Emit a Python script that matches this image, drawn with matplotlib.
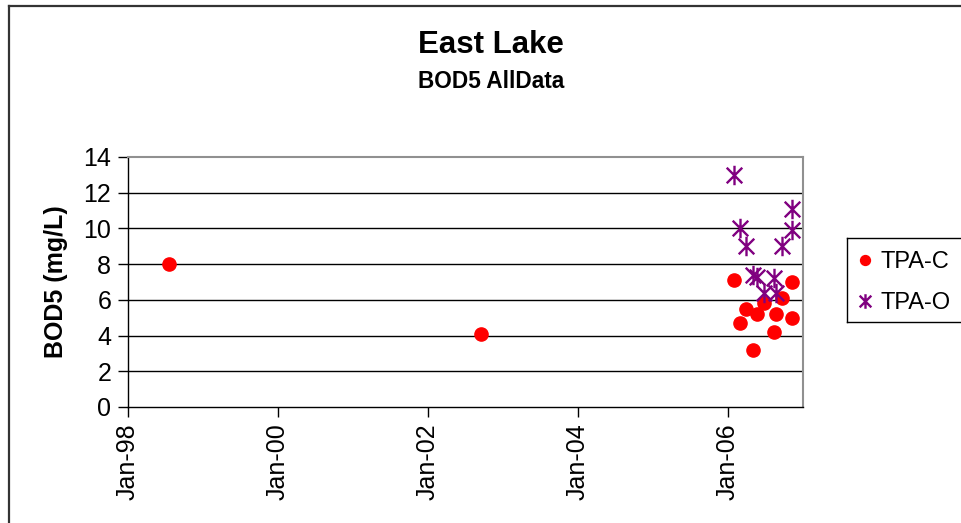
import datetime
import matplotlib
matplotlib.use('Agg')
import matplotlib.pyplot as plt
import matplotlib.dates as mdates
from matplotlib.path import Path
from matplotlib.lines import Line2D

plt.rcParams['font.family'] = ['Liberation Sans', 'DejaVu Sans']

# BOD5 samples, East Lake
tpa_c_dates = ['1998-07-20', '2002-09-15',
               '2006-01-30', '2006-03-01', '2006-03-30', '2006-05-04', '2006-05-26',
               '2006-06-26', '2006-08-14', '2006-08-26', '2006-09-22', '2006-11-08',
               '2006-11-08']
tpa_c_values = [8.0, 4.1,
                7.1, 4.7, 5.5, 3.2, 5.2, 5.8, 4.2, 5.2, 6.1, 7.0, 5.0]

tpa_o_dates = ['2006-01-30', '2006-03-01', '2006-03-30', '2006-05-04', '2006-05-26',
               '2006-06-26', '2006-08-14', '2006-08-26', '2006-09-22', '2006-11-08',
               '2006-11-08']
tpa_o_values = [13.0, 10.0, 9.0, 7.4, 7.3, 6.4, 7.2, 6.4, 9.0, 11.1, 9.9]

y_ticks = [0, 2, 4, 6, 8, 10, 12, 14]
x_tick_years = [1998, 2000, 2002, 2004, 2006]


def to_dt(s):
    return datetime.datetime.strptime(s, '%Y-%m-%d')


# Excel-style star: an X with a vertical bar through it
star = Path([(-1, -1), (1, 1), (-1, 1), (1, -1), (0, -1.25), (0, 1.25)],
            [Path.MOVETO, Path.LINETO, Path.MOVETO, Path.LINETO, Path.MOVETO, Path.LINETO])

fig = plt.figure(figsize=(9.61, 5.23), dpi=100)
ax = fig.add_axes([128 / 961, 1 - 407 / 523, (803 - 128) / 961, (407 - 157) / 523])

ax.plot([to_dt(d) for d in tpa_c_dates], tpa_c_values, linestyle='none',
        marker='o', ms=9.5, color='#ff0000', mec='#ff0000', label='TPA-C', zorder=3)
ax.plot([to_dt(d) for d in tpa_o_dates], tpa_o_values, linestyle='none',
        marker=star, ms=14, mfc='none', mec='#800080', mew=1.7, label='TPA-O', zorder=3)

ax.set_ylim(0, 14)
ax.set_yticks(y_ticks)
ax.set_xlim(datetime.datetime(1998, 1, 1), datetime.datetime(2007, 1, 3))
ax.set_xticks([datetime.datetime(y, 1, 1) for y in x_tick_years])
ax.xaxis.set_major_formatter(mdates.DateFormatter('%b-%y'))
ax.tick_params(axis='x', labelrotation=90, length=7, width=1, pad=5, labelsize=18)
ax.tick_params(axis='y', length=7, width=1, pad=5, labelsize=18)

for y in y_ticks[1:-1]:
    ax.axhline(y, color='black', lw=1, zorder=1)

ax.spines['top'].set_color('#909090')
ax.spines['right'].set_color('#909090')
ax.spines['top'].set_linewidth(1.5)
ax.spines['right'].set_linewidth(1.5)
ax.spines['left'].set_linewidth(1)
ax.spines['bottom'].set_linewidth(1)

ax.set_ylabel('BOD5 (mg/L)', fontsize=18, fontweight='bold', labelpad=11)

fig.text(491 / 961, 1 - 45 / 523, 'East Lake', fontsize=22.5, fontweight='bold',
         ha='center', va='center')
fig.text(491 / 961, 1 - 82 / 523, 'BOD5 AllData', fontsize=16.3, fontweight='bold',
         ha='center', va='center')

fig.legend(loc='upper left', bbox_to_anchor=(847 / 961, 1 - 238 / 523),
           borderaxespad=0, fontsize=17, frameon=False,
           handlelength=0.4, handletextpad=0.45,
           borderpad=0.55, labelspacing=0.8, markerscale=0.75)

# legend box is open on the right: it runs past the edge of the chart area
lx, ltop, lbot = 847 / 961, 1 - 238 / 523, 1 - 322 / 523
for xs, ys in [([lx, 1], [ltop, ltop]), ([lx, 1], [lbot, lbot]), ([lx, lx], [lbot, ltop])]:
    fig.add_artist(Line2D(xs, ys, color='black', lw=1))

# chart-area border along the top and left edges
fig.add_artist(Line2D([8.5 / 961, 1], [1 - 5.5 / 523, 1 - 5.5 / 523],
                      color='#333333', lw=1.6))
fig.add_artist(Line2D([8.5 / 961, 8.5 / 961], [0, 1 - 5.5 / 523],
                      color='#333333', lw=1.6))

fig.savefig('out.png', dpi=100)
